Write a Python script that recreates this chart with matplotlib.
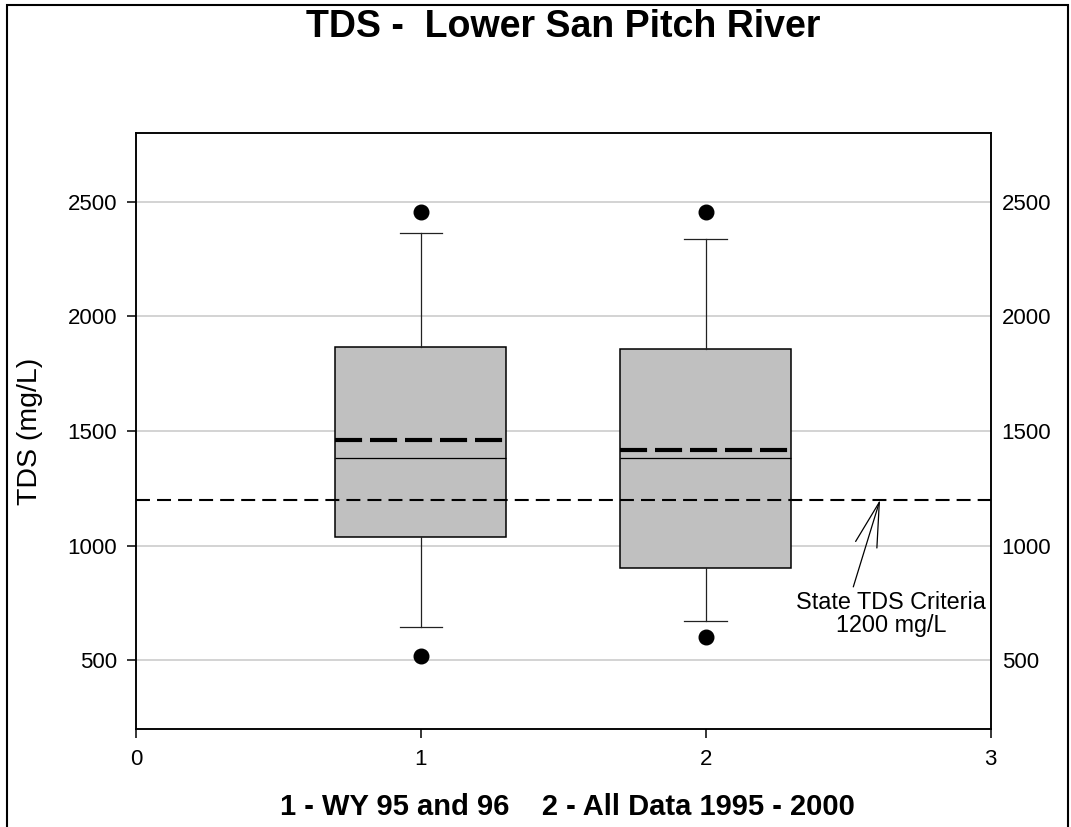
import matplotlib
matplotlib.use("Agg")
import matplotlib.pyplot as plt
from matplotlib.patches import Rectangle

plt.rcParams['font.family'] = ['Liberation Sans', 'DejaVu Sans']

# ---------------------- Data ----------------------- #

positions = [1, 2]
q1 = [1039, 904]
median = [1384, 1384]
q3 = [1867, 1858]
means = [1460, 1416]
whisker_lo = [644, 673]
whisker_hi = [2365, 2339]
outliers = [[517, 2457], [603, 2457]]

criteria = 1200
y_ticks = [500, 1000, 1500, 2000, 2500]
x_ticks = [0, 1, 2, 3]

title = "TDS -  Lower San Pitch River"
x_label = "1 - WY 95 and 96    2 - All Data 1995 - 2000"
y_label = "TDS (mg/L)"
note = "State TDS Criteria\n1200 mg/L"

# ---------------------- Plot ----------------------- #

fig = plt.figure(figsize=(10.71, 8.27), dpi=100)
ax = fig.add_axes([136 / 1071, 1 - 729 / 827, (990.6 - 136) / 1071, (729 - 133) / 827])

stats = []
for i in range(len(positions)):
    stats.append({'q1': q1[i], 'med': median[i], 'q3': q3[i], 'mean': means[i],
                  'whislo': whisker_lo[i], 'whishi': whisker_hi[i],
                  'fliers': outliers[i]})

ax.bxp(stats, positions=positions, widths=0.6, patch_artist=True,
       showmeans=True, meanline=True, capwidths=0.15,
       boxprops=dict(facecolor='#c0c0c0', edgecolor='black', linewidth=1.1),
       medianprops=dict(color='black', linewidth=0.9),
       whiskerprops=dict(color='#222222', linewidth=0.9),
       capprops=dict(color='#222222', linewidth=0.9),
       flierprops=dict(marker='o', markerfacecolor='black', markeredgecolor='black',
                       markersize=10.5, linestyle='none'),
       meanprops=dict(color='black', linewidth=3, linestyle=(0, (6.5, 1.9))),
       zorder=2)

ax.axhline(criteria, color='black', linewidth=1.5, linestyle=(0, (6.7, 3.4)), zorder=3)

ax.set_xlim(0, 3)
ax.set_ylim(200, 2800)
ax.set_xticks(x_ticks)
ax.set_xticklabels([str(t) for t in x_ticks])
ax.set_yticks(y_ticks)
ax.yaxis.grid(True, color='#c8c8c8', linewidth=1.1)
ax.set_axisbelow(True)
for s in ax.spines.values():
    s.set_linewidth(1.1)
ax.tick_params(axis='both', direction='out', length=6.5, width=1.1, labelsize=16)
ax.tick_params(axis='y', pad=7)
ax.tick_params(axis='x', pad=8)

ax2 = ax.twinx()
ax2.set_ylim(ax.get_ylim())
ax2.set_yticks(y_ticks)
ax2.tick_params(axis='y', length=0, pad=8, labelsize=16)
for s in ax2.spines.values():
    s.set_linewidth(1.1)

ax.text(2.651, 700, note, ha='center', va='center', fontsize=16.8, linespacing=1.0)
ax.annotate('', xy=(2.612, criteria), xytext=(2.518, 820),
            arrowprops=dict(arrowstyle='->,head_length=3.2,head_width=0.8',
                            mutation_scale=10, color='black', linewidth=0.9,
                            shrinkA=0, shrinkB=0))

fig.text(563 / 1071, 1 - 37 / 827, title, ha='center', va='baseline',
         fontsize=27, fontweight='bold')
fig.text(280 / 1071, 1 - 815 / 827, x_label, ha='left', va='baseline',
         fontsize=21, fontweight='bold')
fig.text(30 / 1071, 0.478, y_label, ha='center', va='center', rotation=90, fontsize=20.5)

fig.patches.append(Rectangle((7 / 1071, -0.05), (1068 - 7) / 1071, 1.05 - 5 / 827,
                             transform=fig.transFigure, fill=False,
                             edgecolor='black', linewidth=1.5))

fig.savefig('out.png', dpi=100)
